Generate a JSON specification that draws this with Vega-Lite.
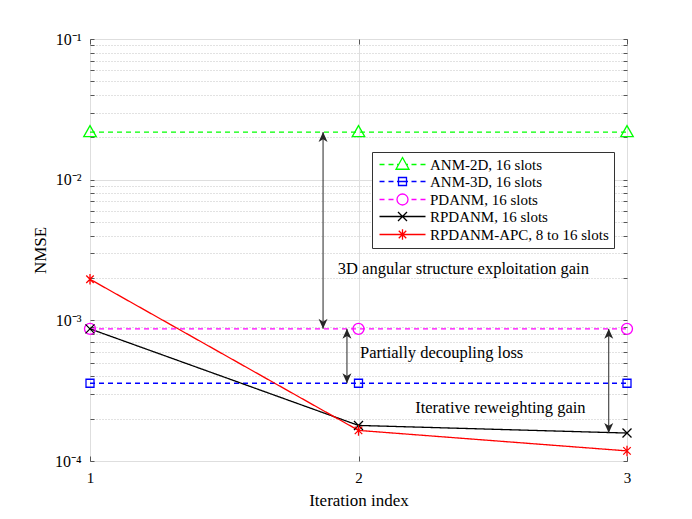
{
  "$schema": "https://vega.github.io/schema/vega-lite/v6.json",
  "width": 537,
  "height": 422,
  "autosize": {"type": "none"},
  "padding": {"left": 90, "top": 39, "right": 65, "bottom": 58},
  "background": "white",
  "config": {
    "view": {"stroke": "#555555", "strokeWidth": 1},
    "font": "Liberation Serif"
  },
  "datasets": {
    "curves": [
      {"series": "ANM-2D, 16 slots", "x": 1, "y": 0.0218},
      {"series": "ANM-2D, 16 slots", "x": 2, "y": 0.0218},
      {"series": "ANM-2D, 16 slots", "x": 3, "y": 0.0218},
      {"series": "ANM-3D, 16 slots", "x": 1, "y": 0.000357},
      {"series": "ANM-3D, 16 slots", "x": 2, "y": 0.000357},
      {"series": "ANM-3D, 16 slots", "x": 3, "y": 0.000357},
      {"series": "PDANM, 16 slots", "x": 1, "y": 0.00087},
      {"series": "PDANM, 16 slots", "x": 2, "y": 0.00087},
      {"series": "PDANM, 16 slots", "x": 3, "y": 0.00087},
      {"series": "RPDANM, 16 slots", "x": 1, "y": 0.00087},
      {"series": "RPDANM, 16 slots", "x": 2, "y": 0.000179},
      {"series": "RPDANM, 16 slots", "x": 3, "y": 0.000158},
      {"series": "RPDANM-APC, 8 to 16 slots", "x": 1, "y": 0.00196},
      {"series": "RPDANM-APC, 8 to 16 slots", "x": 2, "y": 0.000165},
      {"series": "RPDANM-APC, 8 to 16 slots", "x": 3, "y": 0.000118}
    ],
    "arrows": [
      {"x": 1.868, "top": 0.0218, "bottom": 0.00087},
      {"x": 1.957, "top": 0.00087, "bottom": 0.000357},
      {"x": 2.932, "top": 0.00087, "bottom": 0.000158}
    ],
    "notes": [
      {"x": 1.923, "y": 0.0023, "label": "3D angular structure exploitation gain"},
      {"x": 2.006, "y": 0.000583, "label": "Partially decoupling loss"},
      {"x": 2.211, "y": 0.000238, "label": "Iterative reweighting gain"}
    ]
  },
  "resolve": {"axis": {"x": "independent", "y": "independent"}, "legend": {"color": "independent"}},
  "layer": [
    {
      "data": {"name": "curves"},
      "mark": {"type": "line", "strokeWidth": 1.3},
      "encoding": {
        "x": {
          "field": "x",
          "type": "quantitative",
          "scale": {"domain": [1, 3], "nice": false, "zero": false},
          "axis": {
            "orient": "bottom",
            "values": [1, 2, 3],
            "labelExpr": "'' + round(datum.value)",
            "title": "Iteration index",
            "titleFont": "Liberation Serif",
            "titleFontSize": 17,
            "titleFontWeight": "normal",
            "titleColor": "black",
            "titlePadding": 7,
            "labelFont": "Liberation Serif",
            "labelFontSize": 15,
            "labelColor": "black",
            "labelPadding": 14,
            "labelOverlap": false,
            "labelBound": false,
            "labelFlush": false,
            "tickSize": -5,
            "tickColor": "#555555",
            "domain": false,
            "grid": true,
            "gridColor": "#dedede"
          }
        },
        "y": {
          "field": "y",
          "type": "quantitative",
          "scale": {"type": "log", "domain": [0.0001, 0.1], "nice": false},
          "axis": {
            "orient": "left",
            "values": [0.0001, 0.0002, 0.0003, 0.0004, 0.0005, 0.0006, 0.0007, 0.0008, 0.0009, 0.001, 0.002, 0.003, 0.004, 0.005, 0.006, 0.007, 0.008, 0.009, 0.01, 0.02, 0.03, 0.04, 0.05, 0.06, 0.07, 0.08, 0.09, 0.1],
            "labelExpr": "abs(log(datum.value)/LN10 - round(log(datum.value)/LN10)) < 0.01 ? '10⁻' + ['⁰','¹','²','³','⁴'][round(-log(datum.value)/LN10)] : ''",
            "labelOverlap": false,
            "labelBound": false,
            "title": "NMSE",
            "titleFont": "Liberation Serif",
            "titleFontSize": 17,
            "titleFontWeight": "normal",
            "titleColor": "black",
            "titlePadding": 5,
            "labelFont": "Liberation Serif",
            "labelFontSize": 16,
            "labelColor": "black",
            "labelPadding": 13,
            "tickSize": -4,
            "tickColor": "#555555",
            "domain": false,
            "grid": true,
            "gridColor": {"condition": {"test": "abs(log(datum.value)/LN10 - round(log(datum.value)/LN10)) < 0.01", "value": "#dedede"}, "value": "#c4c4c4"},
            "gridDash": {"condition": {"test": "abs(log(datum.value)/LN10 - round(log(datum.value)/LN10)) < 0.01", "value": []}, "value": [1, 2]}
          }
        },
        "color": {
          "field": "series",
          "type": "nominal",
          "scale": {
            "domain": ["ANM-2D, 16 slots", "ANM-3D, 16 slots", "PDANM, 16 slots", "RPDANM, 16 slots", "RPDANM-APC, 8 to 16 slots"],
            "range": ["#00ff00", "#0000ff", "#ff00ff", "#000000", "#ff0000"]
          },
          "legend": {
            "title": null,
            "orient": "none",
            "legendX": 282,
            "legendY": 113,
            "direction": "vertical",
            "symbolType": "stroke",
            "symbolSize": 100,
            "symbolStrokeWidth": 1.3,
            "labelFont": "Liberation Serif",
            "labelFontSize": 15,
            "labelColor": "black",
            "labelOffset": 38,
            "labelLimit": 400,
            "strokeColor": "#333333",
            "fillColor": "white",
            "padding": 5,
            "rowPadding": 1,
            "encode": {
              "symbols": {
                "update": {
                  "shape": {"signal": "datum.value === 'ANM-2D, 16 slots' ? 'M-1,0H0M0.8,0H1.8M2.5,0H2.9M4.3,0H4.7M5.4,0H6.4M7.2,0H8.2M3.6,-1.4L4.9,0.95L2.3,0.95Z' : datum.value === 'ANM-3D, 16 slots' ? 'M-1,0H0M0.8,0H1.8M2.5,0H4.7M5.4,0H6.4M7.2,0H8.2M2.8,-0.8H4.4V0.8H2.8Z' : datum.value === 'PDANM, 16 slots' ? 'M-1,0H0M0.8,0H1.8M5.4,0H6.4M7.2,0H8.2M4.7,0A1.1,1.1,0,1,1,2.5,0A1.1,1.1,0,1,1,4.7,0Z' : datum.value === 'RPDANM, 16 slots' ? 'M-1,0H8.2M2.7,-0.9L4.5,0.9M2.7,0.9L4.5,-0.9' : 'M-1,0H8.2M2.85,-0.75L4.35,0.75M2.85,0.75L4.35,-0.75M3.6,-1.05V1.05'"},
                  "size": {"value": 100},
                  "fill": {"value": "transparent"},
                  "strokeDash": {"value": []},
                  "opacity": {"value": 1}
                }
              }
            }
          }
        },
        "strokeDash": {
          "field": "series",
          "type": "nominal",
          "scale": {
            "domain": ["ANM-2D, 16 slots", "ANM-3D, 16 slots", "PDANM, 16 slots", "RPDANM, 16 slots", "RPDANM-APC, 8 to 16 slots"],
            "range": [[5, 4], [5, 4], [5, 4], [1, 0], [1, 0]]
          },
          "legend": null
        }
      }
    },
    {
      "data": {"name": "curves"},
      "mark": {"type": "point", "filled": false, "strokeWidth": 1.3, "opacity": 1, "size": 100},
      "encoding": {
        "x": {"field": "x", "type": "quantitative", "scale": {"domain": [1, 3], "nice": false, "zero": false}, "axis": null},
        "y": {"field": "y", "type": "quantitative", "scale": {"type": "log", "domain": [0.0001, 0.1], "nice": false}, "axis": null},
        "color": {"field": "series", "type": "nominal", "legend": null},
        "shape": {
          "field": "series",
          "type": "nominal",
          "scale": {
            "domain": ["ANM-2D, 16 slots", "ANM-3D, 16 slots", "PDANM, 16 slots", "RPDANM, 16 slots", "RPDANM-APC, 8 to 16 slots"],
            "range": ["M0,-1.3L1.25,0.9L-1.25,0.9Z", "M-0.8,-0.8H0.8V0.8H-0.8Z", "M1.1,0A1.1,1.1,0,1,1,-1.1,0A1.1,1.1,0,1,1,1.1,0Z", "M-0.9,-0.9L0.9,0.9M-0.9,0.9L0.9,-0.9", "M-0.75,-0.75L0.75,0.75M-0.75,0.75L0.75,-0.75M0,-1.05V1.05"]
          },
          "legend": null
        }
      }
    },
    {
      "data": {"name": "arrows"},
      "mark": {"type": "rule", "color": "#262626", "strokeWidth": 1},
      "encoding": {
        "x": {"field": "x", "type": "quantitative", "scale": {"domain": [1, 3], "nice": false, "zero": false}, "axis": null},
        "y": {"field": "top", "type": "quantitative", "scale": {"type": "log", "domain": [0.0001, 0.1], "nice": false}, "axis": null},
        "y2": {"field": "bottom"}
      }
    },
    {
      "data": {"name": "arrows"},
      "mark": {"type": "point", "shape": "M0,0L-0.45,1L0,0.72L0.45,1Z", "filled": true, "color": "#262626", "size": 400, "opacity": 1},
      "encoding": {
        "x": {"field": "x", "type": "quantitative", "scale": {"domain": [1, 3], "nice": false, "zero": false}, "axis": null},
        "y": {"field": "top", "type": "quantitative", "scale": {"type": "log", "domain": [0.0001, 0.1], "nice": false}, "axis": null}
      }
    },
    {
      "data": {"name": "arrows"},
      "mark": {"type": "point", "shape": "M0,0L-0.45,-1L0,-0.72L0.45,-1Z", "filled": true, "color": "#262626", "size": 400, "opacity": 1},
      "encoding": {
        "x": {"field": "x", "type": "quantitative", "scale": {"domain": [1, 3], "nice": false, "zero": false}, "axis": null},
        "y": {"field": "bottom", "type": "quantitative", "scale": {"type": "log", "domain": [0.0001, 0.1], "nice": false}, "axis": null}
      }
    },
    {
      "data": {"name": "notes"},
      "mark": {"type": "text", "align": "left", "baseline": "middle", "font": "Liberation Serif", "fontSize": 16.5, "color": "black"},
      "encoding": {
        "x": {
          "field": "x",
          "type": "quantitative",
          "scale": {"domain": [1, 3], "nice": false, "zero": false},
          "axis": {"orient": "top", "values": [1, 2, 3], "labels": false, "title": null, "tickSize": -5, "tickColor": "#555555", "domain": false, "grid": false}
        },
        "y": {
          "field": "y",
          "type": "quantitative",
          "scale": {"type": "log", "domain": [0.0001, 0.1], "nice": false},
          "axis": {
            "orient": "right",
            "values": [0.0001, 0.0002, 0.0003, 0.0004, 0.0005, 0.0006, 0.0007, 0.0008, 0.0009, 0.001, 0.002, 0.003, 0.004, 0.005, 0.006, 0.007, 0.008, 0.009, 0.01, 0.02, 0.03, 0.04, 0.05, 0.06, 0.07, 0.08, 0.09, 0.1],
            "labels": false,
            "title": null,
            "tickSize": -4,
            "tickColor": "#555555",
            "domain": false,
            "grid": false
          }
        },
        "text": {"field": "label"}
      }
    }
  ]
}
